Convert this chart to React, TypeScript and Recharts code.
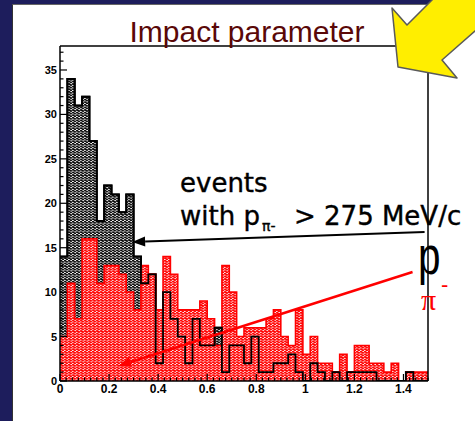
import { ComposedChart, Area, Line, XAxis, YAxis, ReferenceLine } from 'recharts'

// histogram binning: 50 bins of 0.03 between 0 and 1.5
const BIN_WIDTH = 0.03
const X_MAX = 1.5
const Y_MAX = 37.7

// events with p(pi-) > 275 MeV/c (black)
const highMomentum = [
  14, 34, 31, 32, 27, 18, 22, 21, 19, 21,
  14, 11, 12, 2, 10, 7, 5, 2, 7, 4,
  4, 6, 1, 4, 4, 2, 5, 1, 1, 2,
  2, 3, 1, 0, 2, 1, 0, 1, 0, 1,
  1, 1, 1, 0, 0, 0, 0, 1, 0, 0,
]

// p pi- sample (red)
const pPiMinus = [
  5, 11, 7, 16, 16, 11, 13, 13, 12, 10,
  8, 13, 12, 8, 14, 12, 8, 8, 8, 9,
  7, 4, 13, 10, 5, 6, 6, 6, 7, 8,
  5, 4, 8, 3, 5, 2, 2, 1, 3, 1,
  4, 4, 2, 2, 1, 2, 0, 1, 1, 1,
]

const X_LABELS = [0, 0.2, 0.4, 0.6, 0.8, 1, 1.2, 1.4]
const X_MINOR_STEP = 0.025
const Y_LABELS = [0, 5, 10, 15, 20, 25, 30, 35]
const Y_MINOR_STEP = 1

// annotation arrows, in data units (tail -> head)
const hiArrow = [{ x: 1.486, y: 16.76 }, { x: 0.294, y: 15.64 }]
const pPiArrow = [{ x: 1.437, y: 12.26 }, { x: 0.237, y: 1.69 }]

const nBins = highMomentum.length
// one point per bin edge; the last edge repeats the last bin so the step closes
const data = Array.from({ length: nBins + 1 }, (_, i) => ({
  x: +(i * BIN_WIDTH).toFixed(3),
  hi: highMomentum[Math.min(i, nBins - 1)],
  ppi: pPiMinus[Math.min(i, nBins - 1)],
}))

const xTicks = Array.from({ length: Math.round(X_MAX / X_MINOR_STEP) + 1 }, (_, i) => +(i * X_MINOR_STEP).toFixed(3))
const yTicks = Array.from({ length: Math.floor(Y_MAX / Y_MINOR_STEP) + 1 }, (_, i) => i * Y_MINOR_STEP)

const AXIS_FONT = '"Liberation Sans", Arial, Helvetica, sans-serif'
const NOTE_FONT = '"DejaVu Sans", Verdana, sans-serif'

function XTick({ x, y, payload }: any) {
  const v = payload.value
  const major = X_LABELS.some((l) => Math.abs(l - v) < 1e-6)
  return (
    <g>
      <line x1={x} y1={y} x2={x} y2={y - (major ? 7 : 3.5)} stroke="#000" strokeWidth={1.2} />
      {major && (
        <text x={x} y={y + 12} textAnchor="middle" fontSize={12} fontWeight="bold" fontFamily={AXIS_FONT} fill="#000">
          {String(v)}
        </text>
      )}
    </g>
  )
}

function YTick({ x, y, payload }: any) {
  const v = payload.value
  const major = Y_LABELS.includes(v)
  return (
    <g>
      <line x1={x} y1={y} x2={x + (major ? 7 : 3.5)} y2={y} stroke="#000" strokeWidth={1.2} />
      {major && (
        <text x={x - 3} y={y + 4} textAnchor="end" fontSize={11} fontWeight="bold" fontFamily={AXIS_FONT} fill="#000">
          {v}
        </text>
      )}
    </g>
  )
}

function arrowShape(color: string, width: number, head: number, half: number) {
  return (props: any) => {
    const { x1, y1, x2, y2 } = props
    const a = Math.atan2(y2 - y1, x2 - x1)
    const bx = x2 - head * Math.cos(a)
    const by = y2 - head * Math.sin(a)
    const px = -Math.sin(a) * half
    const py = Math.cos(a) * half
    return (
      <g>
        <line x1={x1} y1={y1} x2={bx} y2={by} stroke={color} strokeWidth={width} />
        <polygon points={`${x2},${y2} ${bx + px},${by + py} ${bx - px},${by - py}`} fill={color} />
      </g>
    )
  }
}

export default function App() {
  return (
    <div style={{ position: 'absolute', left: 0, top: 0, width: 475, height: 421, background: '#1d1d5c', overflow: 'hidden' }}>
      <div
        style={{
          position: 'absolute', left: 12, top: 4, width: 463, height: 417,
          background: '#fff', borderLeft: '1px solid #333', borderTop: '1px solid #666',
        }}
      />
      <div style={{ position: 'absolute', left: 0, top: 0 }}>
        <ComposedChart width={475} height={421} data={data} margin={{ top: 46, right: 47, bottom: 20, left: 20 }}>
          <defs>
            <pattern id="hatchBlack" width={4} height={2.6} patternUnits="userSpaceOnUse">
              <rect width={4} height={2.6} fill="#fff" />
              <path d="M0 1.3 Q1 0.1 2 1.3 T4 1.3" fill="none" stroke="#000" strokeWidth={1.6} />
            </pattern>
            <pattern id="hatchRed" width={4} height={2.6} patternUnits="userSpaceOnUse">
              <rect width={4} height={2.6} fill="#fff" />
              <path d="M0 1.3 Q1 0.1 2 1.3 T4 1.3" fill="none" stroke="#ff0000" strokeWidth={1.7} />
            </pattern>
          </defs>
          <XAxis
            dataKey="x"
            type="number"
            domain={[0, X_MAX]}
            ticks={xTicks}
            interval={0}
            tick={<XTick />}
            tickLine={false}
            tickSize={0}
            tickMargin={0}
            height={20}
            axisLine={{ stroke: '#000', strokeWidth: 1.5 }}
            allowDataOverflow
          />
          <YAxis
            type="number"
            domain={[0, Y_MAX]}
            ticks={yTicks}
            interval={0}
            tick={<YTick />}
            tickLine={false}
            tickSize={0}
            tickMargin={0}
            width={40}
            axisLine={{ stroke: '#000', strokeWidth: 1.5 }}
            allowDataOverflow
          />
          <Area
            type="stepAfter"
            dataKey="hi"
            baseValue={0}
            fill="url(#hatchBlack)"
            fillOpacity={1}
            stroke="#000"
            strokeWidth={2}
            isAnimationActive={false}
          />
          <Area
            type="stepAfter"
            dataKey="ppi"
            baseValue={0}
            fill="url(#hatchRed)"
            fillOpacity={1}
            stroke="#ff0000"
            strokeWidth={1.6}
            isAnimationActive={false}
          />
          <Line
            type="stepAfter"
            dataKey="hi"
            stroke="#000"
            strokeWidth={1.8}
            dot={false}
            activeDot={false}
            isAnimationActive={false}
          />
          {/* frame */}
          <ReferenceLine y={Y_MAX} stroke="#000" strokeWidth={1.5} ifOverflow="visible" />
          <ReferenceLine x={X_MAX} stroke="#000" strokeWidth={1.5} ifOverflow="visible" />
          <ReferenceLine segment={hiArrow} ifOverflow="visible" shape={arrowShape('#000', 2, 13, 5)} />
          <ReferenceLine segment={pPiArrow} ifOverflow="visible" shape={arrowShape('#ff0000', 2.5, 13, 5)} />
        </ComposedChart>
      </div>
      <svg width={475} height={421} style={{ position: 'absolute', left: 0, top: 0, pointerEvents: 'none' }}>
        <text x={247} y={42} textAnchor="middle" fontSize={30} fontFamily={AXIS_FONT} fill="#5a0808">
          Impact parameter
        </text>
        <polygon
          points="398,67 392,8 407,25 433,-1 476,-1 476,30 442,60 457,78"
          fill="#ffee00"
          stroke="#5a5a5a"
          strokeWidth={1.5}
          strokeLinejoin="round"
        />
        <g fill="#000" stroke="#000" strokeWidth={0.4} fontFamily={NOTE_FONT}>
          <text x={180} y={192} fontSize={26}>events</text>
          <text x={180} y={225} fontSize={26}>with p</text>
          <text x={262} y={231} fontSize={14}>π-</text>
          <text x={294} y={225} fontSize={26}>&gt; 275 MeV/c</text>
        </g>
        <text x={0} y={0} fontSize={54} fontFamily={AXIS_FONT} fill="#000" transform="translate(418,274) scale(0.75,1)">p</text>
        <text x={421} y={310} fontSize={30} fontFamily='"Liberation Serif", "DejaVu Serif", serif' fill="#ff0000">π</text>
        <text x={441} y={292} fontSize={22} fontFamily={AXIS_FONT} fill="#ff0000">-</text>
      </svg>
    </div>
  )
}
